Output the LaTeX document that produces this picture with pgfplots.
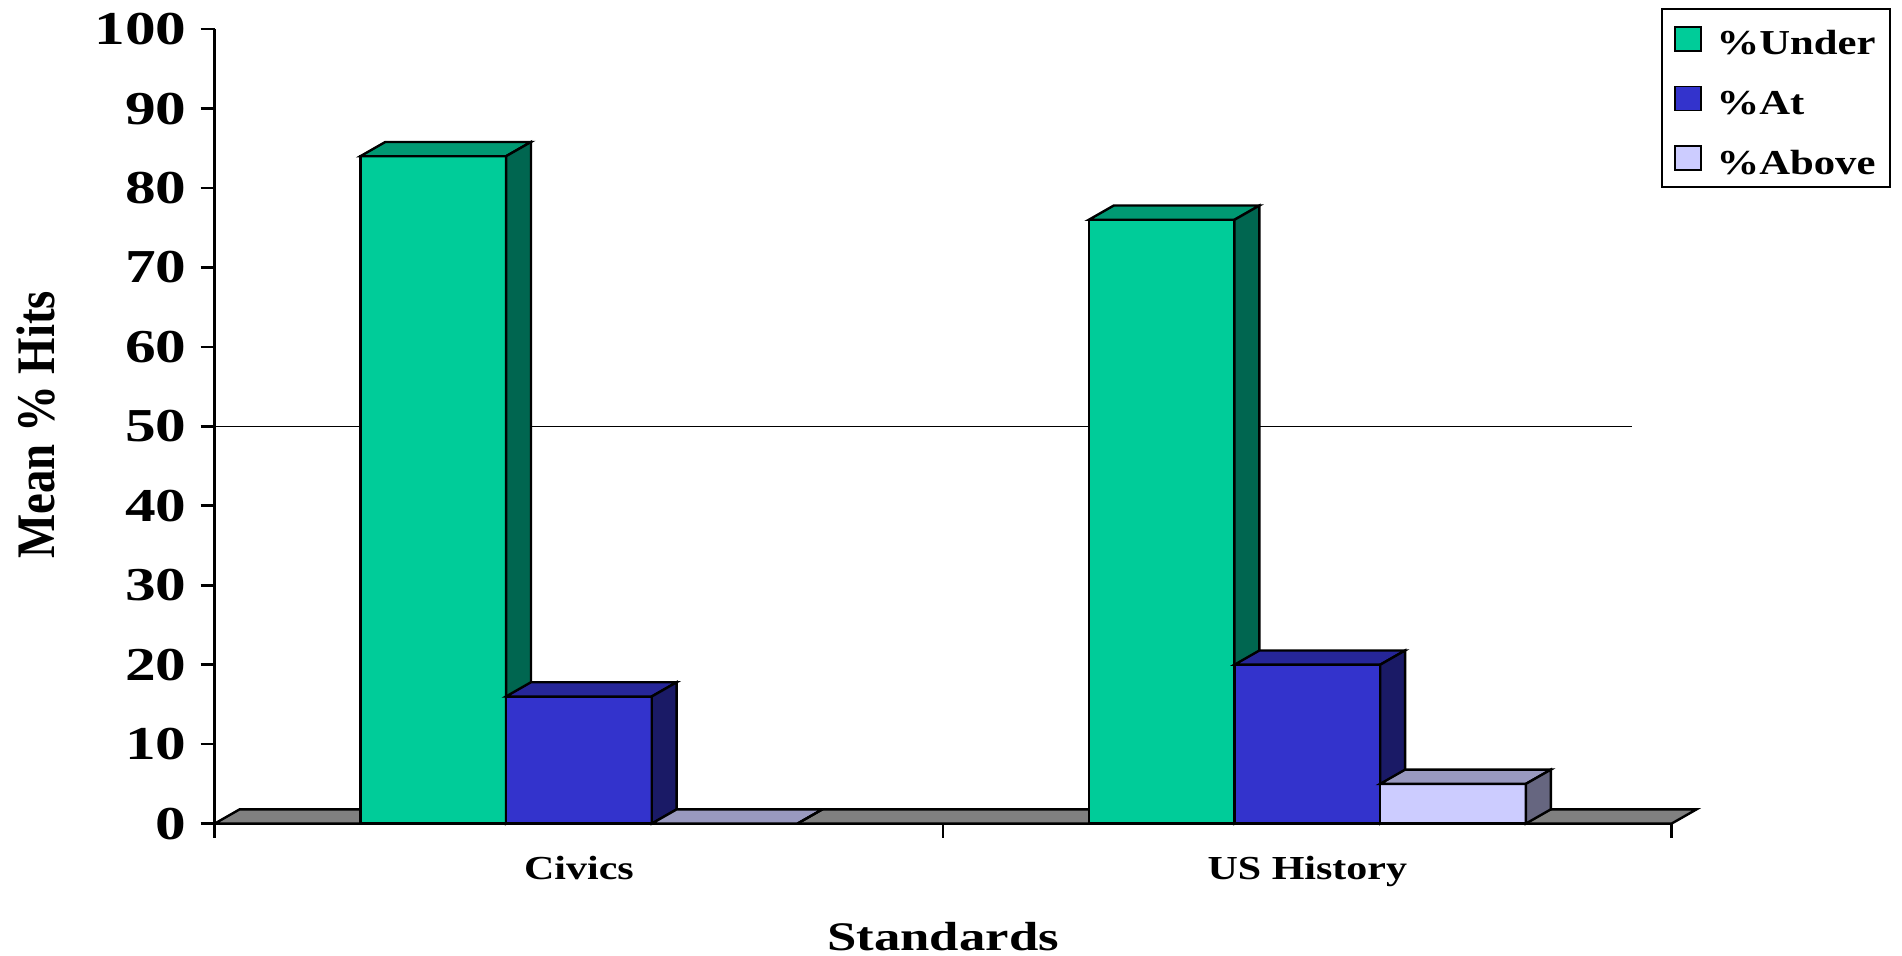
\documentclass[border=0pt]{standalone}
\usepackage{fontspec}
\setmainfont{Liberation Serif}
\usepackage{graphicx}
\usepackage{pgfplots}
\pgfplotsset{compat=1.18}

\definecolor{underF}{HTML}{00CC99}
\definecolor{underT}{HTML}{009973}
\definecolor{underS}{HTML}{006650}
\definecolor{atF}{HTML}{3333CC}
\definecolor{atT}{HTML}{262699}
\definecolor{atS}{HTML}{1A1A66}
\definecolor{abF}{HTML}{CCCCFF}
\definecolor{abT}{HTML}{9999BF}
\definecolor{abS}{HTML}{666680}
\definecolor{floorC}{HTML}{808080}

\def\dx{0.0342}
\def\dy{1.79}
\def\bw{0.2}

% #1 left x of bar, #2 value, #3 front colour, #4 top colour, #5 side colour
\newcommand{\barthreed}[5]{%
  \pgfmathsetmacro\xa{#1}%
  \pgfmathsetmacro\xb{#1+\bw}%
  \pgfmathsetmacro\xc{#1+\bw+\dx}%
  \pgfmathsetmacro\xd{#1+\dx}%
  \pgfmathsetmacro\yt{#2+\dy}%
  \addplot[forget plot, fill=#3, draw=black, line width=1.2pt] coordinates {(\xa,0) (\xb,0) (\xb,#2) (\xa,#2)} -- cycle;
  \addplot[forget plot, fill=#4, draw=black, line width=1.2pt] coordinates {(\xa,#2) (\xb,#2) (\xc,\yt) (\xd,\yt)} -- cycle;
  \addplot[forget plot, fill=#5, draw=black, line width=1.2pt] coordinates {(\xb,0) (\xc,\dy) (\xc,\yt) (\xb,#2)} -- cycle;
}

\begin{document}
\begin{tikzpicture}
\useasboundingbox (-107.35pt,-66.2pt) rectangle (843.65pt,411.8pt);
\begin{axis}[
  scale only axis,
  width=728.45pt, height=397.25pt,
  xmin=-0.5, xmax=1.5, ymin=0, ymax=100,
  clip=false,
  axis x line*=bottom, axis y line*=left,
  axis line style={line width=1.3pt, -},
  tick align=outside,
  major tick length=7pt,
  tick style={line width=1.3pt, black},
  ytick={0,10,...,100},
  yticklabel={\scalebox{1.3}[1]{\pgfmathprintnumber[assume math mode=true]{\tick}}},
  yticklabel style={font=\fontsize{23.6}{28}\selectfont\bfseries, xshift=-3.5pt},
  xtick={-0.5,0.5,1.5},
  xticklabels={,,},
  extra x ticks={0,1},
  extra x tick labels={\scalebox{1.25}[1]{Civics},\scalebox{1.25}[1]{US History}},
  extra x tick style={major tick length=0pt},
  xticklabel style={font=\fontsize{16.8}{20}\selectfont\bfseries, yshift=-13pt},
  xlabel={\scalebox{1.3}[1]{Standards}},
  xlabel style={font=\fontsize{20.3}{24}\selectfont\bfseries, at={(axis description cs:0.5,0)}, anchor=north, yshift=-46pt},
  ylabel={\scalebox{1}[1.16]{Mean \% Hits}},
  ylabel style={font=\fontsize{23.4}{28}\selectfont\bfseries, at={(axis description cs:-0.1227,0.502)}, anchor=center, rotate=0},
  legend image code/.code={\draw[#1, line width=0.8pt] (0pt,-6pt) rectangle (13pt,6pt);},
  legend cell align=left,
  legend style={at={(axis description cs:0.9927,1.026)}, anchor=north west,
    draw=black, line width=1pt,
    font=\fontsize{17.5}{20}\selectfont\bfseries,
    inner xsep=6pt, inner ysep=5.7pt, row sep=11.8pt, column sep=6.5pt,
    nodes={inner sep=1pt, text height=16pt, text depth=0pt}},
]
\addlegendimage{fill=underF, draw=black}
\addlegendentry{\scalebox{1.22}[1]{\%Under}}
\addlegendimage{fill=atF, draw=black}
\addlegendentry{\scalebox{1.22}[1]{\%At}}
\addlegendimage{fill=abF, draw=black}
\addlegendentry{\scalebox{1.22}[1]{\%Above}}

% reference line at 50
\addplot[forget plot, black, line width=0.8pt] coordinates {(-0.5,50) (1.446,50)};

% floor
\addplot[forget plot, fill=floorC, draw=black, line width=1.2pt] coordinates {(-0.5,0) (1.5,0) (1.5342,1.79) (-0.4658,1.79)} -- cycle;

% Civics
\barthreed{-0.3}{84}{underF}{underT}{underS}
\barthreed{-0.1}{16}{atF}{atT}{atS}
\barthreed{0.1}{0}{abF}{abT}{abS}
% US History
\barthreed{0.7}{76}{underF}{underT}{underS}
\barthreed{0.9}{20}{atF}{atT}{atS}
\barthreed{1.1}{5}{abF}{abT}{abS}
\end{axis}
\end{tikzpicture}
\end{document}
